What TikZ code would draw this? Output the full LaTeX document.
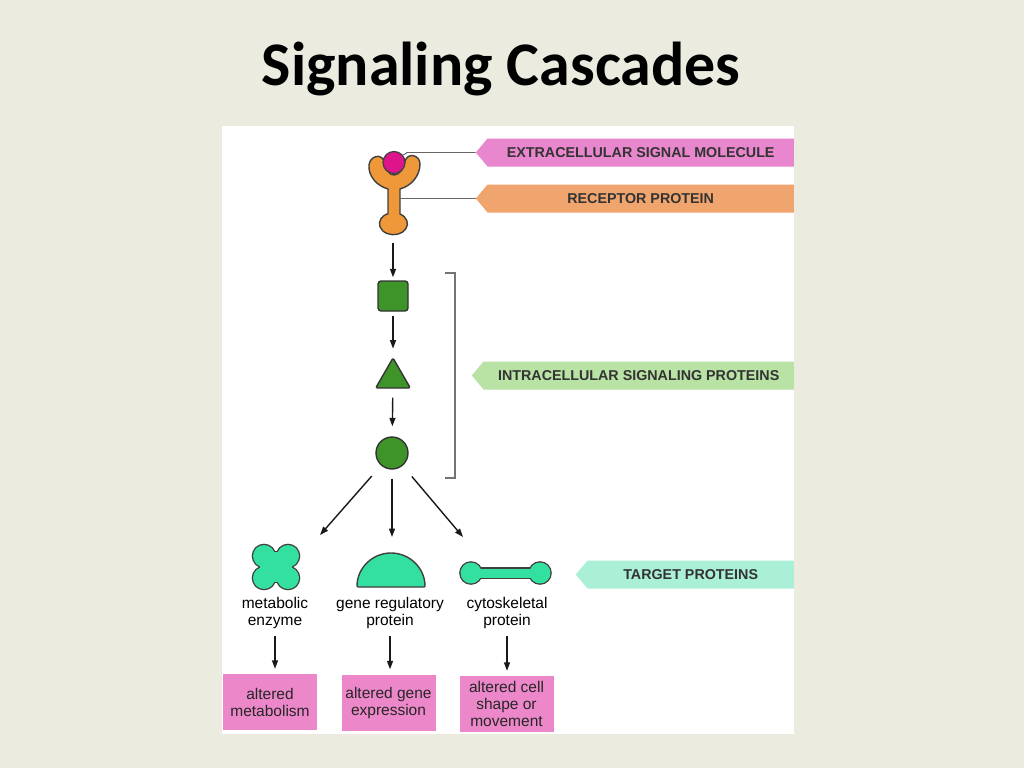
\documentclass[tikz,border=0pt]{standalone}
\usepackage{fontspec}
\setmainfont{Liberation Sans}
\newfontfamily\titlefont{Carlito}
\usetikzlibrary{shapes.symbols,shapes.geometric,arrows.meta}
\definecolor{bgc}{RGB}{235,235,224}
\definecolor{molband}{RGB}{232,135,205}
\definecolor{ballc}{RGB}{222,20,140}
\definecolor{recband}{RGB}{240,165,110}
\definecolor{recc}{RGB}{238,152,58}
\definecolor{intband}{RGB}{185,226,165}
\definecolor{sigg}{RGB}{62,148,40}
\definecolor{tgtband}{RGB}{170,240,215}
\definecolor{targc}{RGB}{52,224,160}
\definecolor{effc}{RGB}{236,136,202}

\begin{document}
\begin{tikzpicture}[x=1pt,y=-1pt]
    \tikzstyle{banner} = [signal, signal to=west, signal from=nowhere, signal pointer angle=100, anchor=east, minimum height=28pt, inner sep=0pt, text=black!80, font=\fontsize{14.3}{16}\selectfont\bfseries]
    \tikzstyle{lead} = [black!60, line width=0.9pt]
    \tikzstyle{sigp} = [draw=black!80, line width=1.4pt, fill=sigg, inner sep=0pt]
    \tikzstyle{targ} = [draw=black!75, line width=2.6pt]
    \tikzstyle{arr} = [-{Triangle[length=8.5pt,width=6pt]}, line width=1.4pt, black!90]
    \tikzstyle{lab} = [align=center, inner sep=1pt, font=\fontsize{15.5}{17}\selectfont]
    \tikzstyle{effbox} = [fill=effc, minimum width=94pt, minimum height=56pt, align=center, inner sep=0pt, text=black!85, font=\fontsize{15.5}{17}\selectfont]
    \useasboundingbox (0,0) rectangle (1024,768);
    \fill[bgc] (0,0) rectangle (1024,768);
    \fill[white] (222,126) rectangle (794,734);
    \node[anchor=base, font=\titlefont\bfseries\fontsize{62}{72}\selectfont] (title) at (501,85) {Signaling Cascades};

    \node[banner, fill=molband, minimum width=318pt] (mol) at (794,152.5) {EXTRACELLULAR SIGNAL MOLECULE};
    \node[banner, fill=recband, minimum width=318pt] (rec) at (794,198.5) {RECEPTOR PROTEIN};
    \node[banner, fill=intband, minimum width=322pt] (intra) at (794,375.5) {INTRACELLULAR SIGNALING PROTEINS};
    \node[banner, fill=tgtband, minimum width=218pt] (tgt) at (794,574.5) {TARGET PROTEINS};

    \draw[draw=black!75, line width=1.4pt, fill=recc] (388,214) -- (388,189)
        .. controls (377,186) and (368,176) .. (369,165)
        .. controls (370,156) and (381,153) .. (384,161)
        .. controls (386,170) and (389,175) .. (394,175)
        .. controls (399,175) and (403,170) .. (405,161)
        .. controls (408,152) and (420,155) .. (420,164)
        .. controls (420,176) and (411,186) .. (400,189)
        -- (400,214) arc[start angle=-62, end angle=242, x radius=14, y radius=11] -- cycle;
    \node[circle, draw=black!75, line width=1.2pt, fill=ballc, minimum size=22pt, inner sep=0pt] (ball) at (394,162.5) {};
    \coordinate (stem) at (400,198.5);
    \coordinate (recb) at (393,243);
    \draw[lead] (ball.40) -- ++(4,-2) |- (mol.west);
    \draw[lead] (stem) -- (rec.west);

    \node[sigp, rectangle, rounded corners=3pt, minimum size=30pt] (sq) at (393,296) {};
    \node[sigp, regular polygon, regular polygon sides=3, minimum size=40pt, rounded corners=2pt] (tri) at (393,378) {};
    \node[sigp, circle, minimum size=32pt] (ci) at (392,453) {};
    \draw[arr, shorten >=3pt] (recb) -- (sq);
    \draw[arr, shorten <=4pt, shorten >=8pt] (sq) -- (tri);
    \draw[arr, shorten <=9pt, shorten >=10pt] (tri) -- (ci);
    \draw[black!55, line width=1.2pt] (445,273) -- (455,273) -- (455,478) -- (445,478);

    \coordinate (e1) at (320,535);
    \coordinate (e2) at (392,537);
    \coordinate (e3) at (463,537);
    \foreach \e/\s in {e1/14, e2/9, e3/14} {
        \draw[arr, shorten <=\s pt] (ci) -- (\e);
    }

    \begin{scope}[shift={(276,567)}]
        \foreach \f in {0,1} {
            \ifnum\f=0 \tikzset{cur/.style={targ}} \else \tikzset{cur/.style={fill=targc}} \fi
            \foreach \dx/\dy in {-12/-11, 12/-11, -12/11, 12/11} {
                \path[cur] (\dx,\dy) circle (11);
            }
            \path[cur] (-16,-10) rectangle (16,10);
            \path[cur] (-11,-15) rectangle (11,15);
        }
    \end{scope}
    \draw[targ, line width=1.4pt, fill=targc, rounded corners=1pt] (357,587) arc[start angle=180, end angle=360, radius=34] -- cycle;
    \foreach \f in {0,1} {
        \ifnum\f=0 \tikzset{cur/.style={targ}} \else \tikzset{cur/.style={fill=targc}} \fi
        \path[cur] (471,573) circle (10.5);
        \path[cur] (540,573) circle (10.5);
        \path[cur] (471,568.5) rectangle (540,577.5);
    }

    \foreach \n/\x/\bx/\by/\lab/\res in {1/275/270/702/{metabolic\\enzyme}/{altered\\metabolism}, 2/390/388.5/702.5/{gene regulatory\\protein}/{altered gene\\expression}, 3/507/506.5/704/{cytoskeletal\\protein}/{altered cell\\shape or\\movement}} {
        \node[lab] (lab\n) at (\x,613) {\lab};
        \node[effbox] (res\n) at (\bx,\by) {\res};
        \draw[arr, shorten <=6pt, shorten >=5pt] (lab\n) -- (lab\n |- res\n.north);
    }
\end{tikzpicture}
\end{document}
